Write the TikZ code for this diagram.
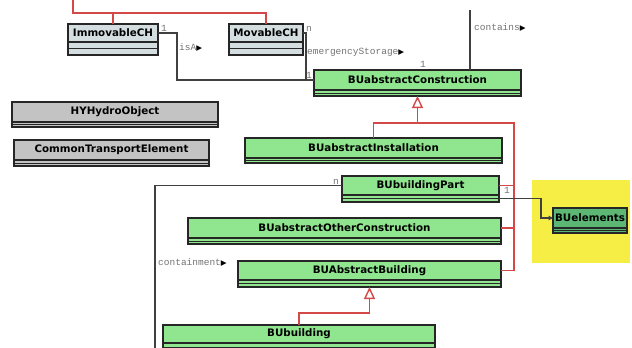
\documentclass[tikz,border=0pt]{standalone}
\usepackage{fontspec}
\setsansfont{DejaVu Sans}
\setmonofont{Liberation Mono}
\newfontfamily\symfont{DejaVu Sans}
\usetikzlibrary{calc,positioning,arrows.meta}
\definecolor{clsgreen}{HTML}{8FE68F}
\definecolor{clsdark}{HTML}{5DB774}
\definecolor{clsgray}{HTML}{C3C3C3}
\definecolor{clsblue}{HTML}{D4DEE1}
\definecolor{hiyellow}{HTML}{F7EE45}
\definecolor{genred}{HTML}{D44848}
\newcommand{\dirmark}{{\color{black}\symfont\fontsize{7.5}{7.5}\selectfont ▶}}

\begin{document}
\begin{tikzpicture}[x=1pt, y=-1pt]
\tikzstyle{cls}=[draw=black!85, line width=1.3pt, anchor=north west, inner sep=0pt, outer sep=0pt,
                 font=\sffamily\bfseries\fontsize{10.3}{12}\selectfont]
\tikzstyle{cmpt}=[draw=black!85, line width=1.3pt, anchor=north, inner sep=0pt, outer sep=0pt,
                  path picture={\draw[black!85, line width=1pt] (path picture bounding box.west) -- (path picture bounding box.east);}]
\tikzstyle{lbl}=[inner sep=1pt, text=black!55, font=\ttfamily\fontsize{9.5}{10}\selectfont]
\tikzstyle{assoc}=[draw=black!75, line width=1.3pt]
\tikzstyle{gen}=[draw=genred, line width=1.4pt]
\tikzstyle{genarrow}=[gen, -{Triangle[length=12pt, width=11pt, fill=white]}]
\useasboundingbox (0,0) rectangle (632,348);
\fill[hiyellow] (532,180) rectangle (630,263);
% classes
\node[cls, fill=clsblue, minimum width=90pt, minimum height=18pt] (imm) at (68,24) {ImmovableCH};
\node[cmpt, fill=clsblue, minimum width=90pt, minimum height=13pt] (imm-c) at (imm.south) {};
\node[cls, fill=clsblue, minimum width=74pt, minimum height=18pt] (mov) at (229,24) {MovableCH};
\node[cmpt, fill=clsblue, minimum width=74pt, minimum height=13pt] (mov-c) at (mov.south) {};
\node[cls, fill=clsgreen, minimum width=207pt, minimum height=20pt] (con) at (314,70) {BUabstractConstruction};
\node[cmpt, fill=clsgreen, minimum width=207pt, minimum height=6pt] (con-c) at (con.south) {};
\node[cls, fill=clsgray, minimum width=206pt, minimum height=20pt] (hy) at (12,102) {HYHydroObject};
\node[cmpt, fill=clsgray, minimum width=206pt, minimum height=5pt] (hy-c) at (hy.south) {};
\node[cls, fill=clsgray, minimum width=195pt, minimum height=20pt] (cte) at (14,140) {CommonTransportElement};
\node[cmpt, fill=clsgray, minimum width=195pt, minimum height=6pt] (cte-c) at (cte.south) {};
\node[cls, fill=clsgreen, minimum width=257pt, minimum height=20pt] (inst) at (245,138) {BUabstractInstallation};
\node[cmpt, fill=clsgreen, minimum width=257pt, minimum height=5pt] (inst-c) at (inst.south) {};
\node[cls, fill=clsgreen, minimum width=157pt, minimum height=19pt] (part) at (342,176) {BUbuildingPart};
\node[cmpt, fill=clsgreen, minimum width=157pt, minimum height=7pt] (part-c) at (part.south) {};
\node[cls, fill=clsgreen, minimum width=313pt, minimum height=20pt] (other) at (188,218) {BUabstractOtherConstruction};
\node[cmpt, fill=clsgreen, minimum width=313pt, minimum height=6pt] (other-c) at (other.south) {};
\node[cls, fill=clsgreen, minimum width=263pt, minimum height=19pt] (abld) at (238,261) {BUAbstractBuilding};
\node[cmpt, fill=clsgreen, minimum width=263pt, minimum height=7pt] (abld-c) at (abld.south) {};
\node[cls, fill=clsgreen, minimum width=272pt, minimum height=18pt] (bld) at (163,325) {BUbuilding};
\node[cmpt, fill=clsgreen, minimum width=272pt, minimum height=8pt] (bld-c) at (bld.south) {};
\node[cls, fill=clsdark, minimum width=74pt, minimum height=20pt] (elem) at (553,208) {BUelements};
\node[cmpt, fill=clsdark, minimum width=74pt, minimum height=5pt] (elem-c) at (elem.south) {};
% generalizations
\coordinate (rtop) at (73,0);
\coordinate (rj) at (73,13);
\draw[gen] (rtop) -- (rj) -| (mov.north);
\draw[gen] (imm.north) |- (rj);
\path (con-c.south) ++(0,27) coordinate (gj);
\coordinate (gr) at (514,123);
\draw[genarrow] (inst.north) |- (gj) -- (con-c.south);
\draw[gen] (abld.east) -| (gr) -- (gj);
\draw[gen] (part.east) -- (part.east -| gr);
\draw[gen] (other.east) -- (other.east -| gr);
\draw[genarrow] (bld.north) -- ++(0,-12) -| (abld-c.south);
% associations
\draw[assoc] (imm.east) -- ++(19,0) |- (con.west);
\draw[assoc] (mov.east) -- ++(3,0) |- (con.west);
\coordinate (ctop) at (470,10);
\draw[assoc] (ctop) -- (ctop |- con.north);
\coordinate (cbot) at (155,350);
\draw[assoc] (part.west) -| (cbot);
\draw[assoc, -{Triangle[length=4.5pt, width=4.5pt]}] (part-c.east) -- ++(42,0) |- (elem.west);
% labels
\node[lbl, anchor=south west] (imm-m) at ([xshift=2pt]imm.east) {1};
\node[lbl, anchor=west] (isa) at (178,48) {isA\dirmark};
\node[lbl, anchor=south west] (mov-m) at ([xshift=2pt]mov.east) {n};
\node[lbl, anchor=west] (emst) at (306,52) {emergencyStorage\dirmark};
\node[lbl, anchor=south east] (con-m) at ([xshift=-1pt]con.west) {1};
\node[lbl, anchor=south] (con-t) at (423,69) {1};
\node[lbl, anchor=west] (cont) at (473,28) {contains\dirmark};
\node[lbl, anchor=south east] (part-m) at ([xshift=-2pt]part.west) {n};
\node[lbl, anchor=west] (part-r) at (503,190) {1};
\node[lbl, anchor=west] (cmnt) at (157,263) {containment\dirmark};
\end{tikzpicture}
\end{document}
